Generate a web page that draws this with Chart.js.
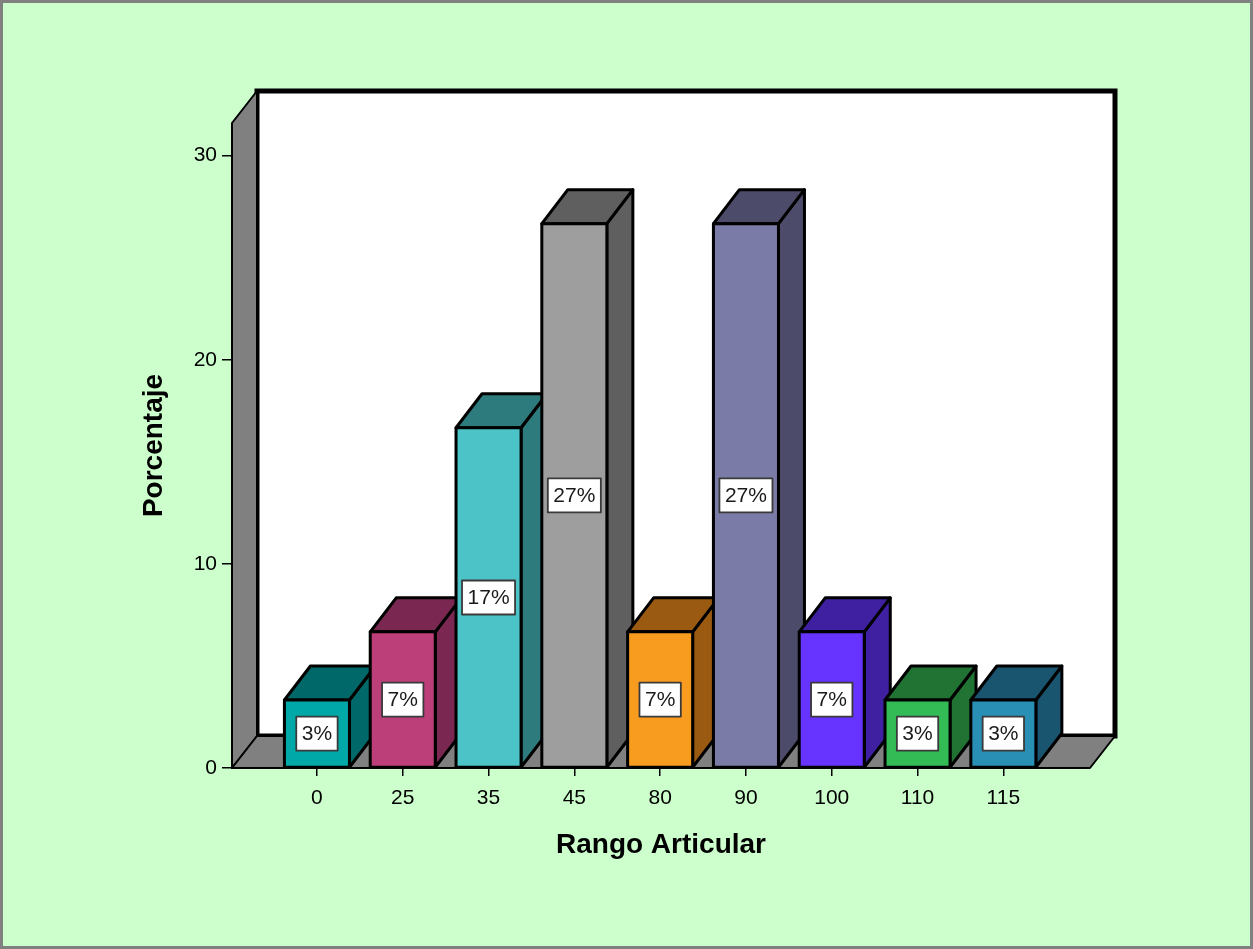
<!DOCTYPE html>
<html><head><meta charset="utf-8">
<script src="https://cdn.jsdelivr.net/npm/chart.js@4"></script>
<style>html,body{margin:0;padding:0;background:#CCFFCC;overflow:hidden}</style>
</head><body>
<canvas id="c" width="1253" height="949"></canvas>
<script>
// ---- data ----
const categories = ['0', '25', '35', '45', '80', '90', '100', '110', '115'];
const percentages = [3.33, 6.67, 16.67, 26.67, 6.67, 26.67, 6.67, 3.33, 3.33];
const yTickValues = [0, 10, 20, 30];
const xTitle = 'Rango Articular';
const yTitle = 'Porcentaje';
const frontColors = ['#00A8A8', '#BC3F7A', '#4CC3C6', '#9E9E9E', '#F89C20', '#7B7BA8', '#6633FF', '#33BB55', '#2A8FB5'];
const sideColors  = ['#006868', '#7A2852', '#2E7B7D', '#5F5F5F', '#9A5A12', '#4C4C6A', '#3F20A0', '#217333', '#1A5570'];

const FONT = '"Liberation Sans", Arial, sans-serif';
const BAR_DEPTH = { dx: 26, dy: -34 };
const WALL_DEPTH = { dx: 25, dy: -32 };

function poly(ctx, pts, fill, lw) {
  ctx.beginPath();
  ctx.moveTo(pts[0][0], pts[0][1]);
  for (let i = 1; i < pts.length; i++) ctx.lineTo(pts[i][0], pts[i][1]);
  ctx.closePath();
  ctx.fillStyle = fill; ctx.fill();
  ctx.lineWidth = lw; ctx.strokeStyle = '#000'; ctx.lineJoin = 'round'; ctx.stroke();
}

const threeD = {
  id: 'threeD',
  beforeDraw(chart) {
    const ctx = chart.ctx;
    ctx.save();
    ctx.fillStyle = '#CCFFCC';
    ctx.fillRect(0, 0, chart.width, chart.height);
    ctx.strokeStyle = '#808080'; ctx.lineWidth = 3;
    ctx.strokeRect(1.5, 1.5, chart.width - 3, chart.height - 3);
    ctx.restore();
  },
  beforeDatasetsDraw(chart) {
    const ctx = chart.ctx, a = chart.chartArea;
    const { dx, dy } = WALL_DEPTH;
    ctx.save();
    ctx.fillStyle = '#FFFFFF';
    ctx.fillRect(a.left + dx, a.top + dy, a.right - a.left, a.bottom - a.top);
    ctx.lineWidth = 5; ctx.strokeStyle = '#000'; ctx.lineJoin = 'miter';
    ctx.strokeRect(a.left + dx, a.top + dy, a.right - a.left, a.bottom - a.top);
    poly(ctx, [[a.left, a.bottom], [a.left, a.top], [a.left + dx, a.top + dy], [a.left + dx, a.bottom + dy]], '#808080', 2);
    poly(ctx, [[a.left, a.bottom], [a.right, a.bottom], [a.right + dx, a.bottom + dy], [a.left + dx, a.bottom + dy]], '#808080', 2);
    ctx.restore();
  },
  afterDatasetsDraw(chart) {
    const ctx = chart.ctx;
    const meta = chart.getDatasetMeta(0);
    const { dx, dy } = BAR_DEPTH;
    ctx.save();
    meta.data.forEach((bar, i) => {
      const p = bar.getProps(['x', 'y', 'base', 'width'], true);
      const l = p.x - p.width / 2, r = p.x + p.width / 2;
      const top = Math.min(p.y, p.base), bot = Math.max(p.y, p.base);
      poly(ctx, [[r, bot], [r, top], [r + dx, top + dy], [r + dx, bot + dy]], sideColors[i], 3);
      poly(ctx, [[l, top], [l + dx, top + dy], [r + dx, top + dy], [r, top]], sideColors[i], 3);
      poly(ctx, [[l, top], [r, top], [r, bot], [l, bot]], frontColors[i], 3);
    });
    ctx.font = '21px ' + FONT;
    ctx.textAlign = 'center'; ctx.textBaseline = 'middle';
    meta.data.forEach((bar, i) => {
      const p = bar.getProps(['x', 'y', 'base'], true);
      const txt = Math.round(percentages[i]) + '%';
      const w = ctx.measureText(txt).width + 11, h = 34;
      const cy = (p.y + p.base) / 2;
      ctx.fillStyle = '#FFFFFF';
      ctx.fillRect(p.x - w / 2, cy - h / 2, w, h);
      ctx.lineWidth = 1.8; ctx.strokeStyle = '#3A3A3A';
      ctx.strokeRect(p.x - w / 2, cy - h / 2, w, h);
      ctx.fillStyle = '#1A1A1A';
      ctx.fillText(txt, p.x, cy + 1);
    });
    ctx.restore();
  }
};

new Chart(document.getElementById('c'), {
  type: 'bar',
  data: {
    datasets: [{
      data: categories.map((c, i) => ({ x: i, y: percentages[i] })),
      backgroundColor: frontColors,
      borderColor: '#000',
      borderWidth: 3,
      borderSkipped: false,
      categoryPercentage: 1,
      barPercentage: 0.758
    }]
  },
  options: {
    responsive: false,
    animation: false,
    devicePixelRatio: 1,
    layout: { padding: { left: 133, top: 123, right: 163, bottom: 83 } },
    plugins: { legend: { display: false }, tooltip: { enabled: false } },
    scales: {
      x: {
        type: 'linear', min: -0.99, max: 9.01, offset: false,
        afterBuildTicks: s => { s.ticks = categories.map((c, i) => ({ value: i })); },
        afterFit: s => { s.height = 98; },
        ticks: { callback: v => categories[v], font: { size: 21, family: FONT }, color: '#000', padding: 10, autoSkip: false, maxRotation: 0 },
        grid: { offset: false, drawOnChartArea: false, drawTicks: true, tickLength: 8, color: '#000', lineWidth: 1.5 },
        border: { display: false },
        title: { display: true, text: xTitle, color: '#000', font: { size: 28, weight: 'bold', family: FONT }, padding: { top: 4, bottom: 4 } }
      },
      y: {
        type: 'linear', min: 0, max: 31.6,
        afterBuildTicks: s => { s.ticks = yTickValues.map(v => ({ value: v })); },
        afterFit: s => { s.width = 99; },
        ticks: { font: { size: 21, family: FONT }, color: '#000', padding: 5 },
        grid: { drawOnChartArea: false, drawTicks: true, tickLength: 10, color: '#000', lineWidth: 1.5 },
        border: { display: false },
        title: { display: true, text: yTitle, color: '#000', font: { size: 28, weight: 'bold', family: FONT }, padding: { top: 4, bottom: 4 } }
      }
    }
  },
  plugins: [threeD]
});
</script>
</body></html>
